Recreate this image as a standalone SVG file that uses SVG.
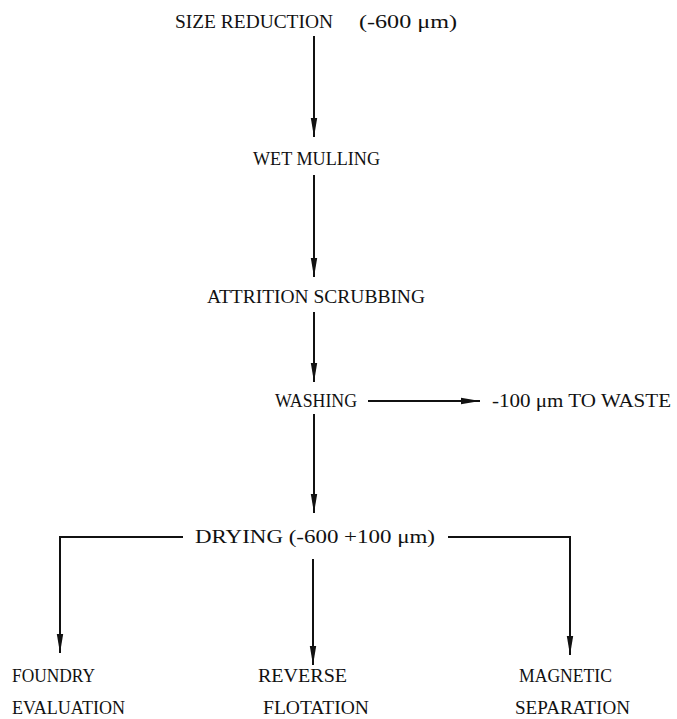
<svg xmlns="http://www.w3.org/2000/svg" width="677" height="719" viewBox="0 0 677 719">
<defs>
<style>
text{font-family:"Liberation Serif","DejaVu Serif",serif;font-size:19px;fill:#111;}
.ln{stroke:#111;stroke-width:2;fill:none;}
</style>
<marker id="ah" markerUnits="userSpaceOnUse" markerWidth="22" markerHeight="10" viewBox="-20 -5 22 10" refX="0" refY="0" orient="auto">
<path d="M-19,-3.2 L0,0 L-19,3.2 Z" fill="#111"/>
</marker>
</defs>
<rect width="677" height="719" fill="#fff"/>
<g id="connectors">
<line class="ln" x1="314" y1="36" x2="314" y2="137" marker-end="url(#ah)"/>
<line class="ln" x1="314" y1="175" x2="314" y2="277" marker-end="url(#ah)"/>
<line class="ln" x1="314" y1="312" x2="314" y2="382" marker-end="url(#ah)"/>
<line class="ln" x1="368" y1="401" x2="480" y2="401" marker-end="url(#ah)"/>
<line class="ln" x1="314" y1="414" x2="314" y2="513" marker-end="url(#ah)"/>
<polyline class="ln" points="183,537 60,537 60,653" marker-end="url(#ah)"/>
<line class="ln" x1="313" y1="559" x2="313" y2="665" marker-end="url(#ah)"/>
<polyline class="ln" points="448,537 570,537 570,655" marker-end="url(#ah)"/>
</g>
<g id="size-reduction">
<text x="175" y="28" textLength="158" lengthAdjust="spacingAndGlyphs">SIZE REDUCTION</text>
<text x="359" y="28" textLength="98" lengthAdjust="spacingAndGlyphs">(-600 μm)</text>
</g>
<g id="wet-mulling">
<text x="253" y="165" textLength="127" lengthAdjust="spacingAndGlyphs">WET MULLING</text>
</g>
<g id="attrition-scrubbing">
<text x="207" y="303" textLength="218" lengthAdjust="spacingAndGlyphs">ATTRITION SCRUBBING</text>
</g>
<g id="washing">
<text x="275" y="407" textLength="82" lengthAdjust="spacingAndGlyphs">WASHING</text>
</g>
<g id="waste">
<text x="492" y="407" textLength="179" lengthAdjust="spacingAndGlyphs">-100 μm TO WASTE</text>
</g>
<g id="drying">
<text x="195" y="543" textLength="240" lengthAdjust="spacingAndGlyphs">DRYING (-600 +100 μm)</text>
</g>
<g id="foundry-evaluation">
<text x="12" y="682" textLength="83" lengthAdjust="spacingAndGlyphs">FOUNDRY</text>
<text x="12" y="714" textLength="113" lengthAdjust="spacingAndGlyphs">EVALUATION</text>
</g>
<g id="reverse-flotation">
<text x="258" y="682" textLength="89" lengthAdjust="spacingAndGlyphs">REVERSE</text>
<text x="263" y="714" textLength="106" lengthAdjust="spacingAndGlyphs">FLOTATION</text>
</g>
<g id="magnetic-separation">
<text x="519" y="682" textLength="93" lengthAdjust="spacingAndGlyphs">MAGNETIC</text>
<text x="515" y="714" textLength="115" lengthAdjust="spacingAndGlyphs">SEPARATION</text>
</g>
</svg>
